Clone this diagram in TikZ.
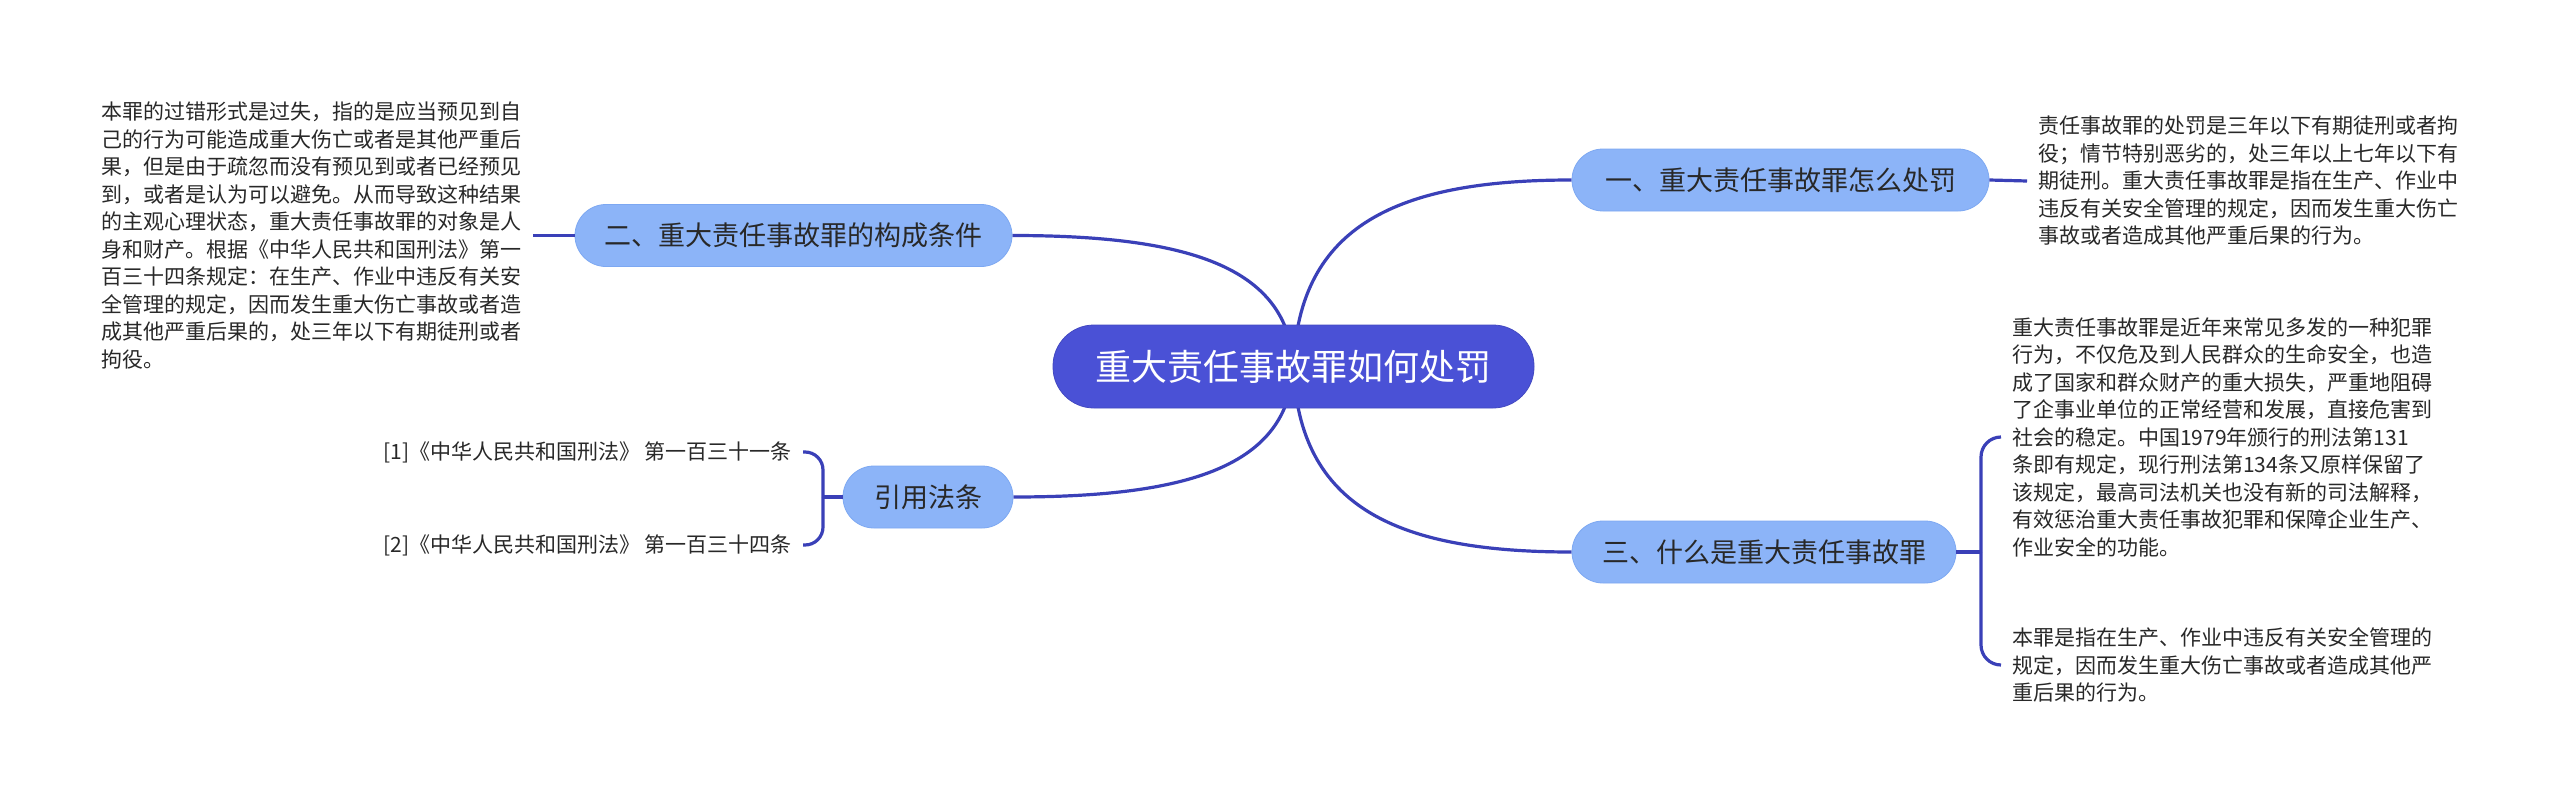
\documentclass[tikz,border=0pt]{standalone}
\usepackage{fontspec}
\setmainfont{Noto Sans CJK SC}
\usetikzlibrary{backgrounds}
\definecolor{linec}{RGB}{58,64,184}
\definecolor{rootc}{RGB}{74,81,214}
\definecolor{subc}{RGB}{140,180,248}
\definecolor{subd}{RGB}{125,168,242}
\definecolor{txtc}{RGB}{40,40,40}
\begin{document}
\begin{tikzpicture}[x=1pt,y=-1pt,
  conn/.style={draw=linec, line width=3.2pt},
  rootnode/.style={fill=rootc, draw=rootc!90!black, line width=0.8pt, rounded corners=41pt, minimum width=481pt, minimum height=83pt, inner sep=0pt, text=white, font=\fontsize{36}{40}\selectfont},
  subnode/.style={fill=subc, draw=subd, line width=0.8pt, rounded corners=31pt, minimum height=62pt, inner sep=0pt, text=txtc, font=\fontsize{27}{30}\selectfont},
  leaf/.style={align=left, inner xsep=11pt, inner ysep=0pt, text=txtc, font=\fontsize{21}{27.5}\selectfont}
]
\path[use as bounding box] (0,0) rectangle (2560,808);

\node[rootnode] (root) at (1293.5,366.5) {重大责任事故罪如何处罚};
\node[subnode, minimum width=417pt] (n1) at (1780.5,180) {一、重大责任事故罪怎么处罚};
\node[subnode, minimum width=437pt] (n2) at (793.5,235.5) {二、重大责任事故罪的构成条件};
\node[subnode, minimum width=384pt] (n3) at (1764,552) {三、什么是重大责任事故罪};
\node[subnode, minimum width=170pt] (yin) at (928,497) {引用法条};

\node[leaf, anchor=west] (t1) at (2027,181) {责任事故罪的处罚是三年以下有期徒刑或者拘\\役；情节特别恶劣的，处三年以上七年以下有\\期徒刑。重大责任事故罪是指在生产、作业中\\违反有关安全管理的规定，因而发生重大伤亡\\事故或者造成其他严重后果的行为。};

\node[leaf, anchor=east] (t2) at (533,235.5) {本罪的过错形式是过失，指的是应当预见到自\\己的行为可能造成重大伤亡或者是其他严重后\\果，但是由于疏忽而没有预见到或者已经预见\\到，或者是认为可以避免。从而导致这种结果\\的主观心理状态，重大责任事故罪的对象是人\\身和财产。根据《中华人民共和国刑法》第一\\百三十四条规定：在生产、作业中违反有关安\\全管理的规定，因而发生重大伤亡事故或者造\\成其他严重后果的，处三年以下有期徒刑或者\\拘役。};

\node[leaf, anchor=west] (t3a) at (2001,437) {重大责任事故罪是近年来常见多发的一种犯罪\\行为，不仅危及到人民群众的生命安全，也造\\成了国家和群众财产的重大损失，严重地阻碍\\了企事业单位的正常经营和发展，直接危害到\\社会的稳定。中国1979年颁行的刑法第131\\条即有规定，现行刑法第134条又原样保留了\\该规定，最高司法机关也没有新的司法解释，\\有效惩治重大责任事故犯罪和保障企业生产、\\作业安全的功能。};

\node[leaf, anchor=west] (t3b) at (2001,665) {本罪是指在生产、作业中违反有关安全管理的\\规定，因而发生重大伤亡事故或者造成其他严\\重后果的行为。};

\node[leaf, anchor=east] (r1) at (803,452) {[1]《中华人民共和国刑法》 第一百三十一条};
\node[leaf, anchor=east] (r2) at (803,545) {[2]《中华人民共和国刑法》 第一百三十四条};

\coordinate (yj) at (823,497);
\coordinate (sj) at (1981,552);

\begin{scope}[on background layer]
\fill[white] (0,0) rectangle (2560,808);
\draw[conn] (root.center) .. controls +(5,-142) and +(-173,0) .. (n1.west);
\draw[conn] (root.center) .. controls +(-5,-101) and +(173,0) .. (n2.east);
\draw[conn] (root.center) .. controls +(-5,101) and +(173,0) .. (yin.east);
\draw[conn] (root.center) .. controls +(5,142) and +(-173,0) .. (n3.west);
\end{scope}

\draw[conn] (n1.east) -- (t1.west);
\draw[conn] (n2.west) -- (t2.east);
\draw[conn] (yin.west) -- (yj);
\draw[conn, rounded corners=18pt] (yj) |- (r1.east);
\draw[conn, rounded corners=18pt] (yj) |- (r2.east);
\draw[conn] (n3.east) -- (sj);
\draw[conn, rounded corners=20pt] (sj) |- (t3a.west);
\draw[conn, rounded corners=20pt] (sj) |- (t3b.west);
\end{tikzpicture}
\end{document}
